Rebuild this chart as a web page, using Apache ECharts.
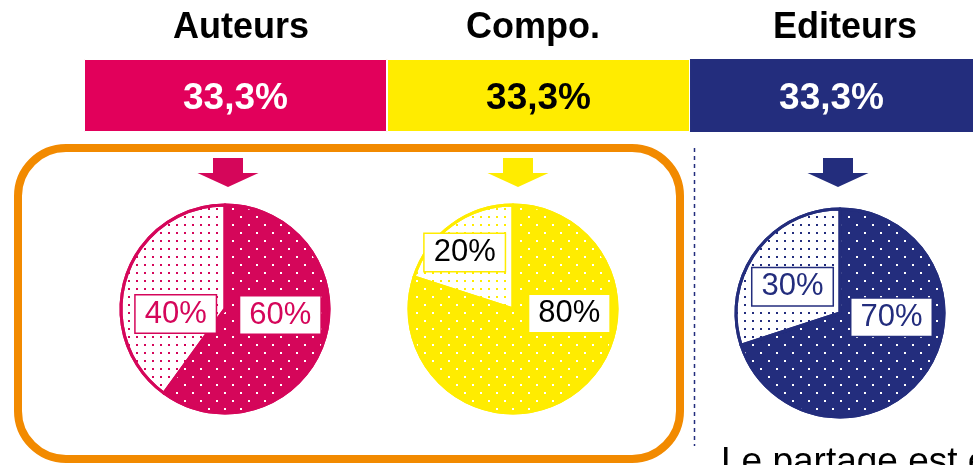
<!DOCTYPE html>
<html><head><meta charset="utf-8">
<script src="https://cdn.jsdelivr.net/npm/echarts@6/dist/echarts.min.js"></script>
<style>html,body{margin:0;padding:0;background:#fff;overflow:hidden}#c{width:973px;height:465px}</style>
</head><body><div id="c"></div>
<script>
// ---- data ----
const groups = ['Auteurs', 'Compo.', 'Editeurs'];
const shares = [33.3, 33.3, 33.3];
const sliceNames = ['part A', 'part B'];
const authorsSplit = [60, 40];
const compoSplit = [80, 20];
const editorsSplit = [70, 30];
const footerText = 'Le partage est ';
const footerTail = 'équitable';

// ---- styles ----
const FONT = '"Liberation Sans", Arial, Helvetica, sans-serif';
const barColors = ['#E2005B', '#FFEC00', '#232D7D'];
const barLabelColors = ['#fff', '#000', '#fff'];
const pieColors = ['#D5065A', '#FFEC00', '#232D7D'];
const pieTextColors = ['#D5065A', '#000', '#232D7D'];
const orange = '#F28A00';
const titleX = [241, 533, 845];
const pieCenters = [[225, 309], [513, 309], [840, 313]];
const arrowX = [228, 518, 838];
const labelShift = {
  p0: [[3, -11], [3, 22]],
  p1: [[24, -40], [-16, -12]],
  p2: [[7, -28], [-3, 6]]
};
const splits = [authorsSplit, compoSplit, editorsSplit];

const fmt = v => String(v).replace('.', ',') + '%';

const barSeries = groups.map((g, i) => ({
  type: 'bar', name: g, stack: 'total', barWidth: '100%',
  data: [shares[i]],
  itemStyle: { color: barColors[i], borderColor: '#fff', borderWidth: i === 2 ? 0 : 1 },
  label: {
    show: true, position: 'inside', formatter: p => fmt(p.value), offset: [0, 3],
    color: barLabelColors[i], fontSize: 37, fontWeight: 'bold', fontFamily: FONT
  },
  emphasis: { disabled: true }
}));

const darkDecal = c => ({ symbol: 'rect', symbolSize: 1, color: c,
  dashArrayX: [[2, 14], [0, 8, 2, 6]], dashArrayY: [2, 6], rotation: 0 });
const lightDecal = c => ({ symbol: 'rect', symbolSize: 1, color: c,
  dashArrayX: [2, 6], dashArrayY: [2, 6], rotation: 0 });

const pieSeries = splits.map((vals, i) => ({
  type: 'pie', id: 'p' + i, center: pieCenters[i], radius: 104,
  startAngle: 90, clockwise: true, silent: true,
  emphasis: { disabled: true },
  labelLine: { show: false },
  label: {
    show: true, position: 'inside', formatter: p => p.value + '%',
    fontSize: 31, fontFamily: FONT, color: pieTextColors[i],
    backgroundColor: '#fff', borderColor: pieColors[i], borderWidth: 1.5,
    padding: [4, 9, 3, 9], lineHeight: 30
  },
  labelLayout: p => {
    const s = labelShift['p' + i][p.dataIndex];
    return { dx: s[0], dy: s[1] };
  },
  data: vals.map((v, k) => ({
    name: sliceNames[k], value: v,
    itemStyle: k === 0
      ? { color: pieColors[i], borderColor: pieColors[i], borderWidth: 3, decal: darkDecal('#fff') }
      : { color: '#fff', borderColor: pieColors[i], borderWidth: 3, decal: lightDecal(pieColors[i]) }
  }))
}));

function arrow(cx, color) {
  return {
    type: 'polygon', silent: true,
    shape: { points: [[cx - 15, 158], [cx + 15, 158], [cx + 15, 173], [cx + 30.5, 173], [cx, 187], [cx - 30.5, 173], [cx - 15, 173]] },
    style: { fill: color }
  };
}

const graphics = [
  { type: 'rect', silent: true, shape: { x: 18, y: 148, width: 662, height: 311, r: 48 },
    style: { fill: 'none', stroke: orange, lineWidth: 8 } },
  { type: 'line', silent: true, shape: { x1: 694.5, y1: 148, x2: 694.5, y2: 446 },
    style: { stroke: '#232D7D', lineWidth: 1.5, lineDash: [4, 4] } },
  ...arrowX.map((x, i) => arrow(x, pieColors[i])),
  ...groups.map((g, i) => ({
    type: 'text', silent: true, x: titleX[i], y: 28,
    style: { text: g, fontSize: 36, fontWeight: 'bold', fontFamily: FONT, fill: '#000', align: 'center', verticalAlign: 'middle' }
  })),
  { type: 'text', silent: true, x: 721, y: 444,
    style: { text: '{a|' + footerText + '}{b|' + footerTail + '}',
      rich: { a: { fontSize: 37, fontFamily: FONT, color: '#000' }, b: { fontSize: 37, fontFamily: FONT, color: orange } },
      verticalAlign: 'top', align: 'left' } }
];

const chart = echarts.init(document.getElementById('c'), null, { renderer: 'canvas' });
chart.setOption({
  animation: false,
  grid: { left: 84, right: 0, top: 59, height: 73 },
  xAxis: { type: 'value', min: 0, max: 97.7, show: false },
  yAxis: { type: 'category', data: ['total'], show: false },
  series: [...barSeries, ...pieSeries],
  graphic: graphics
});
</script>
</body></html>
